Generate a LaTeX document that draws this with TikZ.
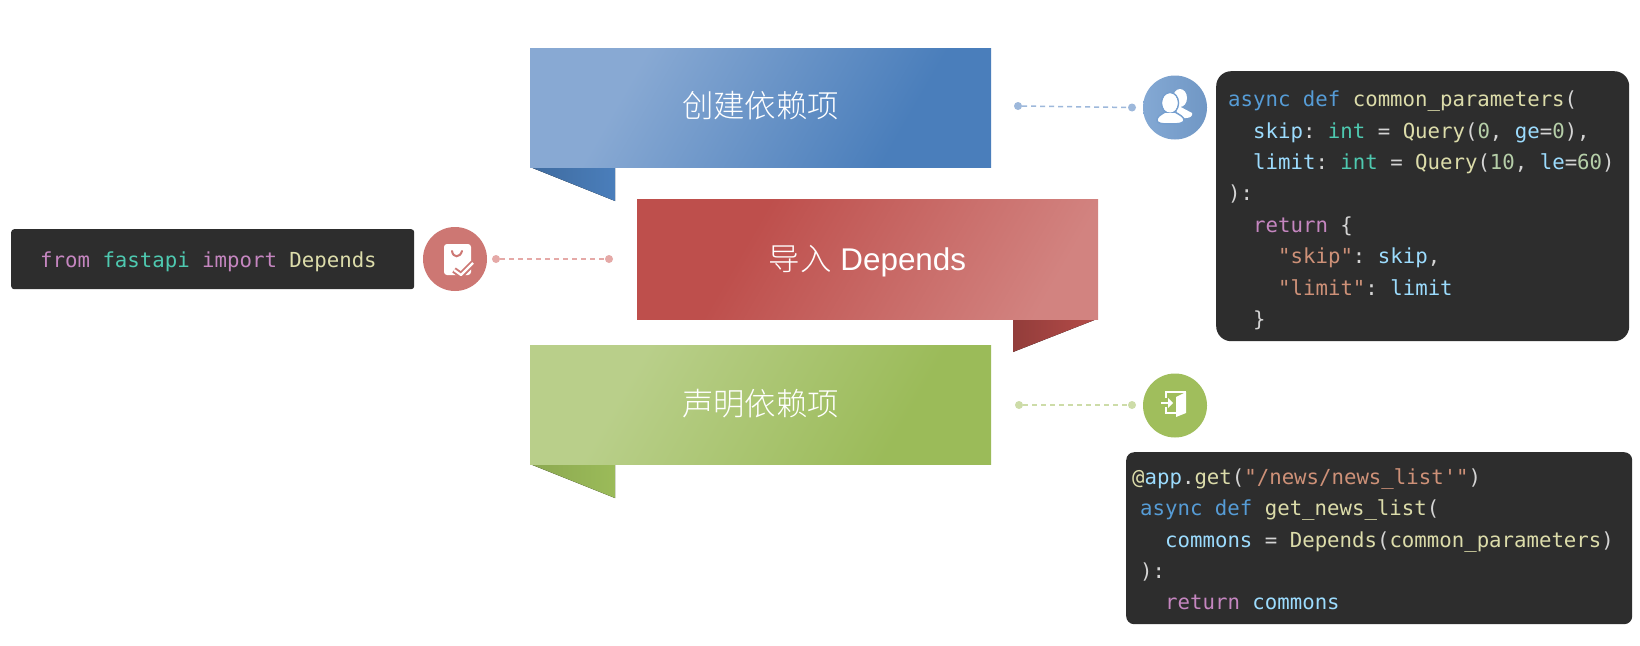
\documentclass[tikz,border=0pt]{standalone}
\usepackage{fontspec}
\setmainfont{Liberation Sans}
\newfontfamily\cjk{Noto Sans CJK SC Light}
\newfontfamily\codefont{DejaVu Sans Mono}
\definecolor{cbg}{HTML}{2D2D2D}
\definecolor{ckw}{HTML}{569CD6}
\definecolor{cfn}{HTML}{DCDCAA}
\definecolor{cvar}{HTML}{9CDCFE}
\definecolor{ctype}{HTML}{4EC9B0}
\definecolor{cnum}{HTML}{B5CEA8}
\definecolor{cstr}{HTML}{CE9178}
\definecolor{cctl}{HTML}{C586C0}
\definecolor{cpl}{HTML}{D4D4D4}
\definecolor{bluea}{HTML}{88A9D3}\definecolor{blueb}{HTML}{4A7EBB}
\definecolor{reda}{HTML}{BE4F4C}\definecolor{redb}{HTML}{D28380}
\definecolor{greena}{HTML}{B9CF8A}\definecolor{greenb}{HTML}{9BBB59}
\definecolor{icblue}{HTML}{769FCF}
\definecolor{icred}{HTML}{CD7773}
\definecolor{icgreen}{HTML}{A0BE5C}
\definecolor{dblue}{HTML}{9DB8DB}
\definecolor{dred}{HTML}{E5A9A7}
\definecolor{dgreen}{HTML}{CDDCA8}
\pgfdeclarehorizontalshading{bluegrad}{100bp}{color(0bp)=(bluea);color(31bp)=(bluea);color(70bp)=(blueb);color(100bp)=(blueb)}
\pgfdeclarehorizontalshading{redgrad}{100bp}{color(0bp)=(reda);color(33bp)=(reda);color(76bp)=(redb);color(100bp)=(redb)}
\pgfdeclarehorizontalshading{greengrad}{100bp}{color(0bp)=(greena);color(31bp)=(greena);color(70bp)=(greenb);color(100bp)=(greenb)}
\newcommand{\K}[1]{\textcolor{ckw}{#1}}
\newcommand{\F}[1]{\textcolor{cfn}{#1}}
\newcommand{\V}[1]{\textcolor{cvar}{#1}}
\newcommand{\T}[1]{\textcolor{ctype}{#1}}
\newcommand{\N}[1]{\textcolor{cnum}{#1}}
\newcommand{\Sx}[1]{\textcolor{cstr}{#1}}
\newcommand{\C}[1]{\textcolor{cctl}{#1}}
\newcommand{\ind}[1]{\hspace*{#1pt}}
\newcommand{\topup}[1]{\spaceskip=12.46pt\xspaceskip=12.46pt\relax\rule{0pt}{#1pt}}
\tikzset{
  banner/.style={minimum width=461pt,inner sep=0pt,text=white,text height=24pt,text depth=0pt,font=\fontsize{31.4}{36}\selectfont},
  codebox/.style={anchor=north west,fill=cbg,inner sep=0pt,align=left,text=cpl,
     font=\codefont\fontsize{20.7}{31.4}\selectfont},
  icon/.style={circle,minimum size=64pt,inner sep=0pt},
  enddot/.style={circle,minimum size=8pt,inner sep=0pt},
  link/.style={line width=1.5pt,dash pattern=on 5pt off 4pt},
}
\begin{document}
\begin{tikzpicture}[x=1pt,y=-1pt]
\useasboundingbox (0,0) rectangle (1640,645);
\fill[white] (0,0) rectangle (1640,645);
% folds
\fill[left color=blueb!85!black,right color=blueb] (530,167) -- (615,167) -- (615,201) -- cycle;
\fill[left color=reda!77!black,right color=reda!95!black] (1013,319) -- (1097,319) -- (1013,352) -- cycle;
\fill[left color=greenb!90!black,right color=greenb] (530,464) -- (615,464) -- (615,498) -- cycle;
% banners
\node[banner,minimum height=119pt,shade,shading=bluegrad,shading angle=-30] (create) at (760.5,107.5) {\raisebox{2.5pt}{\cjk 创建依赖项}};
\node[banner,minimum height=120pt,shade,shading=redgrad,shading angle=-30] (import) at (867.5,259) {\raisebox{1pt}{{\cjk 导入} Depends}};
\node[banner,minimum height=119pt,shade,shading=greengrad,shading angle=-30] (declare) at (760.5,404.5) {\raisebox{1.5pt}{\cjk 声明依赖项}};
% icons
\node[icon,left color=icblue!90!white,right color=icblue!95!black] (iblue) at (1175,107.5) {};
\node[icon,fill=icred] (ired) at (455,259) {};
\node[icon,fill=icgreen] (igreen) at (1175,405.5) {};
% dots and connectors
\node[enddot,fill=dblue] (b1) at (1018,106) {};
\node[enddot,fill=dblue] (b2) at (1132,107.5) {};
\draw[link,dblue] (b1) -- (b2);
\node[enddot,fill=dred] (r1) at (496,259) {};
\node[enddot,fill=dred] (r2) at (609,259) {};
\draw[link,dred] (r1) -- (r2);
\node[enddot,fill=dgreen] (g1) at (1019,405) {};
\node[enddot,fill=dgreen] (g2) at (1132,405) {};
\draw[link,dgreen] (g1) -- (g2);
% people icon
\fill[white] (1180,98) ellipse (7pt and 9pt);
\fill[white] (1175,104) -- (1192,113) .. controls (1193,116) and (1190,118) .. (1186,118) -- (1178,118) -- cycle;
\fill[white,draw=icblue,line width=1.5pt] (1170,103) ellipse (8.5pt and 10.5pt);
\fill[white,draw=icblue,line width=1.5pt] (1165,112) .. controls (1160,115) and (1157,117) .. (1157,120)
  .. controls (1157,123) and (1160,124) .. (1170,124) .. controls (1180,124) and (1184,123) .. (1184,120)
  .. controls (1184,117) and (1180,115) .. (1175,112) -- cycle;
\fill[white] (1170,103) ellipse (7.5pt and 9.5pt);
% bag icon
\fill[white,rounded corners=3pt] (444,244) rectangle (471,275);
\draw[icred,line width=2pt,line cap=round] (452,251) .. controls (453,258) and (460,258) .. (462,251);
\draw[icred,line width=6pt,line join=round] (454,270) -- (461,275) -- (473,263);
\draw[white,line width=2.2pt,line join=round] (454,270) -- (461,275) -- (473,263);
% door icon
\draw[white,line width=1.6pt] (1166,398) -- (1166,392) -- (1186,392);
\draw[white,line width=1.6pt] (1166,407) -- (1166,413) -- (1176,413);
\fill[white] (1176,397) -- (1186,392) -- (1186,413) -- (1176,417) -- cycle;
\draw[white,line width=2pt] (1161,403) -- (1170,403);
\fill[white] (1168,398) -- (1173,403) -- (1168,408) -- cycle;
% code
\node[codebox,rounded corners=15pt,minimum width=413pt,minimum height=270pt,text width=389pt] (code1) at (1216,71) {%
\topup{24}\K{async} \K{def} \F{common\_parameters}(\\
\ind{25}\V{skip}: \T{int} = \F{Query}(\N{0}, \V{ge}=\N{0}),\\
\ind{25}\V{limit}: \T{int} = \F{Query}(\N{10}, \V{le}=\N{60})\\
):\\
\ind{25}\C{return} \{\\
\ind{50}\Sx{"skip"}: \V{skip},\\
\ind{50}\Sx{"limit"}: \V{limit}\\
\ind{25}\}};
\node[codebox,rounded corners=8pt,minimum width=506pt,minimum height=172pt,text width=494pt] (code2) at (1126,452) {%
\topup{18}\F{@}\V{app}.\F{get}(\Sx{"/news/news\_list'"})\\
\ind{8}\K{async} \K{def} \F{get\_news\_list}(\\
\ind{33}\V{commons} = \F{Depends}(\F{common\_parameters})\\
\ind{8}):\\
\ind{33}\C{return} \V{commons}};
\node[codebox,rounded corners=3pt,minimum width=403pt,minimum height=60pt,text width=345pt] (code3) at (11,229) {%
\topup{20}\C{from} \T{fastapi} \C{import} \F{Depends}};
\end{tikzpicture}
\end{document}
